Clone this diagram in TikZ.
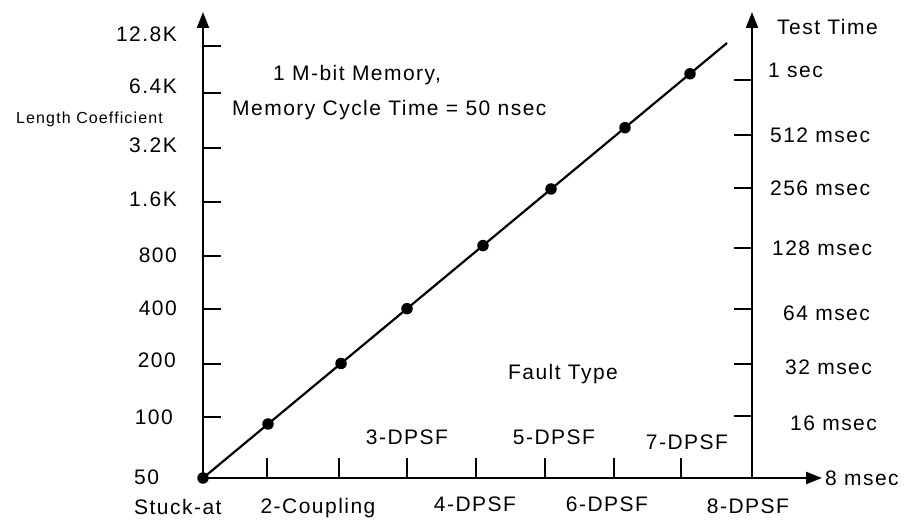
\documentclass[tikz,border=0pt]{standalone}
\usepackage{fontspec}
\setmainfont{Liberation Sans}
\newfontfamily\lblfont{Liberation Sans}[LetterSpace=7]
\usetikzlibrary{arrows.meta}
\tikzset{
  lbl/.style={font=\lblfont\fontsize{21}{25}\selectfont, inner sep=0pt, text height=15pt, text depth=0pt},
  smalllbl/.style={font=\lblfont\fontsize{16}{19}\selectfont, inner sep=0pt, text height=11.5pt, text depth=0pt},
  axis/.style={line width=2.1pt, -{Triangle[length=16pt,width=12pt]}},
  tickmark/.style={line width=2pt},
  curve/.style={line width=2.2pt},
  dot/.style={circle, fill=black, inner sep=0pt, minimum size=11.5pt}
}
\begin{document}
\begin{tikzpicture}[x=1pt, y=-1pt]
\useasboundingbox (0,0) rectangle (906,521);

% axes
\coordinate (O) at (203,478);
\coordinate (Ltop) at (203,12);
\coordinate (Xend) at (822,478);
\coordinate (R0) at (752,478);
\coordinate (Rtop) at (752,12);
\draw[axis] (O) -- (Ltop);
\draw[axis] (O) -- (Xend);
\draw[axis] (R0) -- (Rtop);

% left ticks
\foreach \y in {46,93,148,202,256,309,364,417}
  \draw[tickmark] (203,\y) -- (221,\y);
% right ticks
\foreach \y in {80,135,188,248,309,364,416}
  \draw[tickmark] (752,\y) -- (734,\y);
% bottom ticks
\foreach \x in {267,339,407,476,545,614,681}
  \draw[tickmark] (\x,478) -- (\x,458);

% data line and points
\coordinate (Lend) at (727,43);
\node[dot] (p1) at (203,478) {};
\node[dot] (p2) at (268,424) {};
\node[dot] (p3) at (341,363.5) {};
\node[dot] (p4) at (407,308.7) {};
\node[dot] (p5) at (483,245.6) {};
\node[dot] (p6) at (551,189) {};
\node[dot] (p7) at (625,127.7) {};
\node[dot] (p8) at (690,73.8) {};
\draw[curve] (p1.center) -- (Lend);

% left scale labels
\node[lbl, anchor=east] (l128) at (177,34) {12.8K};
\node[lbl, anchor=east] (l64) at (177,86) {6.4K};
\node[smalllbl, anchor=east] (lc) at (163,118) {Length Coefficient};
\node[lbl, anchor=east] (l32) at (177,145) {3.2K};
\node[lbl, anchor=east] (l16) at (177,199) {1.6K};
\node[lbl, anchor=east] (l800) at (177,255) {800};
\node[lbl, anchor=east] (l400) at (177,308) {400};
\node[lbl, anchor=east] (l200) at (176,360) {200};
\node[lbl, anchor=east] (l100) at (173,417) {100};
\node[lbl, anchor=west] (l50) at (134,477) {50};
\node[lbl, anchor=west] (stuck) at (134,507) {Stuck-at};

% right scale labels
\node[lbl, anchor=west] (tt) at (777,27) {Test Time};
\node[lbl, anchor=west] (r1s) at (768,70) {1 sec};
\node[lbl, anchor=west] (r512) at (770,135) {512 msec};
\node[lbl, anchor=west] (r256) at (770,188) {256 msec};
\node[lbl, anchor=west] (r128) at (772,248) {128 msec};
\node[lbl, anchor=west] (r64) at (783,313) {64 msec};
\node[lbl, anchor=west] (r32) at (785,367) {32 msec};
\node[lbl, anchor=west] (r16) at (790,423) {16 msec};
\node[lbl, anchor=west] (r8) at (825,478) {8 msec};

% fault type labels
\node[lbl] (f2) at (318,506) {2-Coupling};
\node[lbl] (f4) at (475,504) {4-DPSF};
\node[lbl] (f6) at (607,504) {6-DPSF};
\node[lbl] (f8) at (748,506) {8-DPSF};
\node[lbl] (f3) at (407,437) {3-DPSF};
\node[lbl] (f5) at (554,437) {5-DPSF};
\node[lbl] (f7) at (687,442) {7-DPSF};
\node[lbl] (ft) at (563,372) {Fault Type};

% caption inside the plot
\node[lbl, anchor=west] (cap1) at (273,73) {1 M-bit Memory,};
\node[lbl, anchor=west] (cap2) at (232,108) {Memory Cycle Time = 50 nsec};
\end{tikzpicture}
\end{document}
